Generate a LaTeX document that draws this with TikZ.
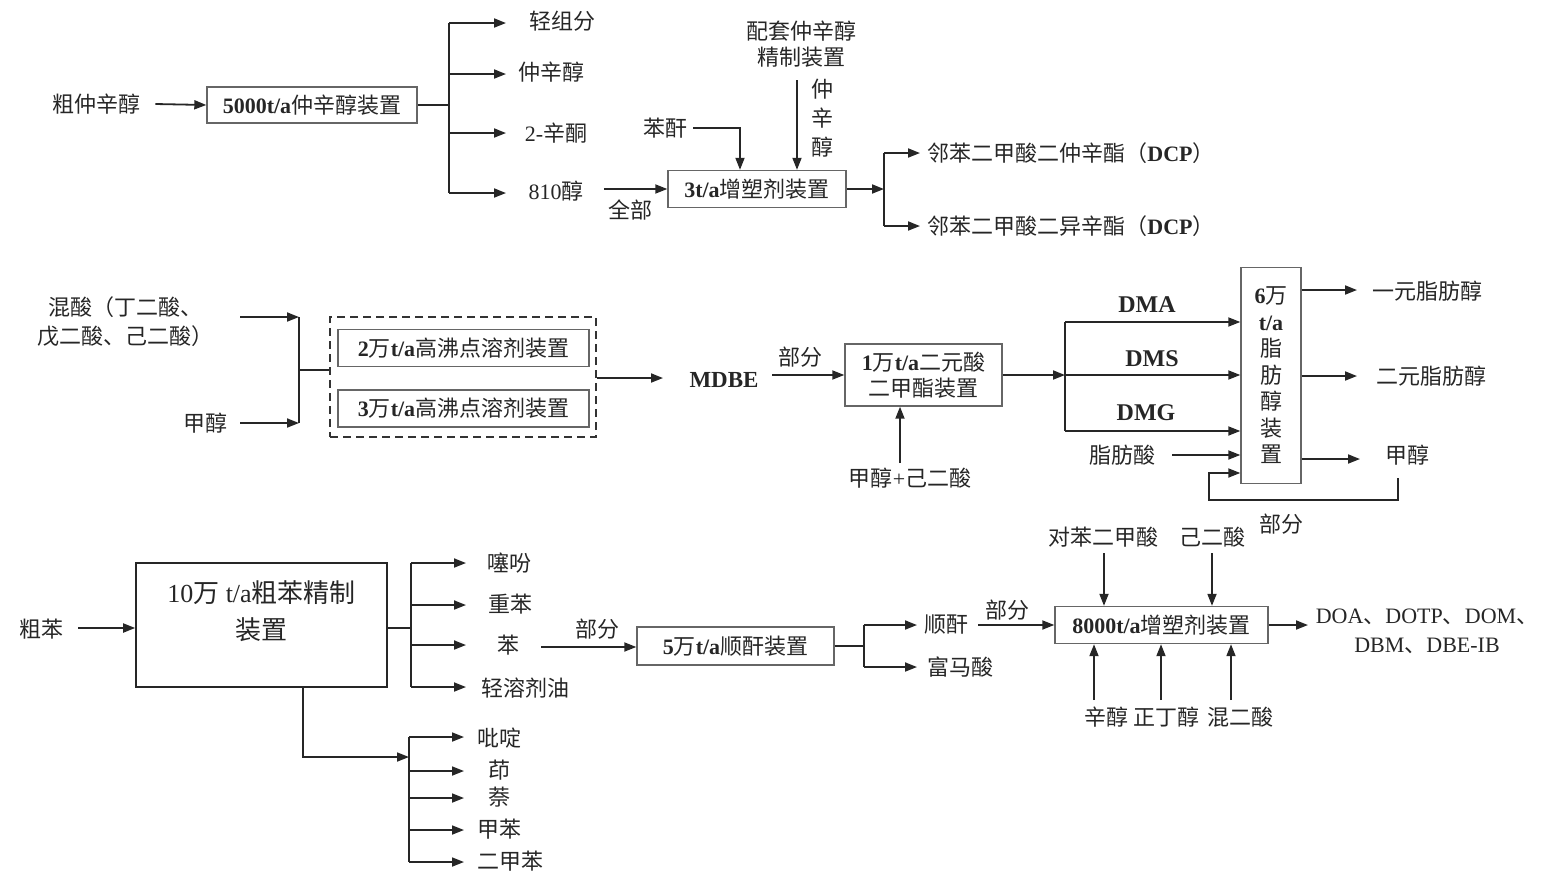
\documentclass[tikz,border=0pt]{standalone}
\usepackage{fontspec}
\setmainfont{Liberation Serif}
\newfontfamily\cjk{Noto Sans CJK SC}
\usetikzlibrary{arrows.meta}
\XeTeXinterchartokenstate=1
\newXeTeXintercharclass\CJKcls
\newcount\cjkcnt
\cjkcnt="4E00
\loop
  \XeTeXcharclass\cjkcnt=\CJKcls
  \advance\cjkcnt by 1
\ifnum\cjkcnt<"A000 \repeat
\XeTeXcharclass"3001=\CJKcls
\XeTeXcharclass"FF08=\CJKcls
\XeTeXcharclass"FF09=\CJKcls
\XeTeXinterchartoks 0 \CJKcls={\cjk}
\XeTeXinterchartoks 4095 \CJKcls={\cjk}
\XeTeXinterchartoks \CJKcls 0={\rmfamily}
\XeTeXinterchartoks \CJKcls 4095={\rmfamily}
\tikzset{
  lbl/.style={inner sep=0pt, text=black!85, font=\fontsize{11}{13}\selectfont},
  box/.style={draw=black!60, line width=0.7pt, inner sep=1pt, text=black!85,
    font=\fontsize{11}{13}\selectfont, align=center},
  ln/.style={line width=0.9pt, draw=black!85},
  arr/.style={ln, -{Triangle[length=6pt,width=4.5pt]}},
}
\begin{document}
\begin{tikzpicture}[x=0.5pt,y=-0.5pt]
\useasboundingbox (0,0) rectangle (1542,874);
% ---------------- top ----------------
\node[lbl] (czx) at (97,104) {粗仲辛醇};
\node[box, minimum width=105pt, minimum height=18pt] (b1) at (312,105) {\textbf{5000t/a}仲辛醇装置};
\draw[arr] ([xshift=7pt]czx.east) -- (b1.west);
\coordinate (j1) at (449,105);
\coordinate (t11) at (506,23);
\coordinate (t12) at (506,74);
\coordinate (t13) at (506,133);
\coordinate (t14) at (506,193);
\draw[ln] (b1.east) -- (j1);
\draw[ln] (j1 |- t11) -- (j1 |- t14);
\foreach \t in {t11,t12,t13,t14} \draw[arr] (j1 |- \t) -- (\t);
\node[lbl] (lq) at (562,21) {轻组分};
\node[lbl] (lzx) at (551,72) {仲辛醇};
\node[lbl] (lxt) at (556,133) {2-辛酮};
\node[lbl] (l810) at (556,191) {810醇};
\node[box, minimum width=89pt, minimum height=18.5pt] (b2) at (757,189) {\textbf{3t/a}增塑剂装置};
\coordinate (s810) at ([xshift=10pt]l810.east);
\draw[arr] (s810 |- b2.west) -- (b2.west);
\node[lbl] (lqb) at (630,210) {全部};
\node[lbl] (lbf) at (665,128) {苯酐};
\draw[arr] ([xshift=3pt]lbf.east) -| ([xshift=-8.5pt]b2.north);
\node[lbl, align=center] (lpt) at (801,44) {配套仲辛醇\\精制装置};
\coordinate (spt) at (797,80);
\draw[arr] (spt) -- (spt |- b2.north);
\node[lbl, align=center, font=\fontsize{11}{14.5}\selectfont] (lzxv) at (822,118) {仲\\辛\\醇};
\coordinate (j2) at (884,189);
\coordinate (t21) at (920,153);
\coordinate (t22) at (920,226);
\draw[arr] (b2.east) -- (j2);
\draw[ln] (j2 |- t21) -- (j2 |- t22);
\draw[arr] (j2 |- t21) -- (t21);
\draw[arr] (j2 |- t22) -- (t22);
\node[lbl, anchor=west] (ldcp1) at (927,153) {邻苯二甲酸二仲辛酯（\textbf{DCP}）};
\node[lbl, anchor=west] (ldcp2) at (927,226) {邻苯二甲酸二异辛酯（\textbf{DCP}）};
% ---------------- middle ----------------
\node[lbl, align=center, font=\fontsize{11}{14.5}\selectfont] (lhs) at (126,322) {混酸（丁二酸、\\戊二酸、己二酸）};
\node[lbl] (ljc1) at (205,423) {甲醇};
\coordinate (h1) at (240,317);
\coordinate (h2) at (240,423);
\coordinate (jm) at (299,370);
\draw[arr] (h1) -- (jm |- h1);
\draw[arr] (h2) -- (jm |- h2);
\draw[ln] (jm |- h1) -- (jm |- h2);
\node[draw=black!80, line width=0.9pt, dash pattern=on 4pt off 2.5pt, minimum width=133pt, minimum height=60pt] (dbox) at (463,377) {};
\node[box, minimum width=125.5pt, minimum height=18.5pt] (ib1) at (463.5,348) {\textbf{2}万\textbf{t/a}高沸点溶剂装置};
\node[box, minimum width=125.5pt, minimum height=18.5pt] (ib2) at (463.5,408.5) {\textbf{3}万\textbf{t/a}高沸点溶剂装置};
\draw[ln] (jm) -- (jm -| dbox.west);
\coordinate (tm) at (663,378);
\draw[arr] (tm -| dbox.east) -- (tm);
\node[lbl, font=\fontsize{11.5}{13}\selectfont\bfseries] (lmd) at (724,380) {MDBE};
\node[box, minimum width=78.5pt, minimum height=31pt] (b3) at (923.5,375) {\textbf{1}万\textbf{t/a}二元酸\\二甲酯装置};
\coordinate (smd) at (772,375);
\draw[arr] (smd) -- (b3.west);
\node[lbl] (lbf1) at (800,357) {部分};
\node[lbl] (ljy) at (910,478) {甲醇+己二酸};
\coordinate (sjy) at (900,463);
\draw[arr] (sjy) -- (sjy |- b3.south);
\node[box, minimum width=30pt, minimum height=108pt, inner sep=0pt, font=\fontsize{11}{13.25}\selectfont] (b4) at (1271,375.5) {\textbf{6}万\\\textbf{t/a}\\脂\\肪\\醇\\装\\置};
\coordinate (cA) at (1065,322);
\coordinate (cS) at (1065,375);
\coordinate (cG) at (1065,431);
\draw[arr] (b3.east) -- (cS);
\draw[ln] (cA) -- (cG);
\draw[arr] (cA) -- (cA -| b4.west);
\draw[arr] (cS) -- (cS -| b4.west);
\draw[arr] (cG) -- (cG -| b4.west);
\node[lbl, font=\fontsize{12}{14}\selectfont\bfseries] (ldma) at (1147,305) {DMA};
\node[lbl, font=\fontsize{12}{14}\selectfont\bfseries] (ldms) at (1152,359) {DMS};
\node[lbl, font=\fontsize{12}{14}\selectfont\bfseries] (ldmg) at (1146,413) {DMG};
\node[lbl] (lzf) at (1122,455) {脂肪酸};
\coordinate (czf) at (1172,455);
\draw[arr] (czf) -- (czf -| b4.west);
\coordinate (o1) at (1357,290);
\coordinate (o2) at (1357,376);
\coordinate (o3) at (1360,459);
\draw[arr] (o1 -| b4.east) -- (o1);
\draw[arr] (o2 -| b4.east) -- (o2);
\draw[arr] (o3 -| b4.east) -- (o3);
\node[lbl] (ly1) at (1427,291) {一元脂肪醇};
\node[lbl] (ly2) at (1431,376) {二元脂肪醇};
\node[lbl] (ljc2) at (1407,455) {甲醇};
\coordinate (fb1) at (1398,478);
\coordinate (fb2) at (1209,500);
\coordinate (fb3) at (1209,473);
\draw[arr] (fb1) |- (fb2) -- (fb3) -- (fb3 -| b4.west);
\node[lbl] (lbf2) at (1281,524) {部分};
% ---------------- bottom ----------------
\node[lbl] (lcb) at (41,629) {粗苯};
\node[draw=black!85, line width=0.8pt, minimum width=125.5pt, minimum height=62pt] (b5) at (261.5,625) {};
\node[inner sep=0pt, align=center, text=black!85, font=\fontsize{13}{18.5}\selectfont] (b5t) at (261.5,611) {10万 t/a粗苯精制\\装置};
\coordinate (scb) at (78,628);
\draw[arr] (scb) -- (scb -| b5.west);
\coordinate (j5) at (411,628);
\draw[ln] (j5 -| b5.east) -- (j5);
\coordinate (q1) at (466,563);
\coordinate (q2) at (466,605);
\coordinate (q3) at (466,645);
\coordinate (q4) at (466,687);
\draw[ln] (q1 -| j5) -- (q4 -| j5);
\foreach \q in {q1,q2,q3,q4} \draw[arr] (\q -| j5) -- (\q);
\node[lbl] (lsf) at (509,563) {噻吩};
\node[lbl] (lzb) at (510,604) {重苯};
\node[lbl] (lbz) at (508,645) {苯};
\node[lbl] (lqr) at (525,688) {轻溶剂油};
\coordinate (j6) at (409,757);
\draw[arr] ([xshift=20.75pt]b5.south) |- (j6);
\coordinate (r1) at (464,737);
\coordinate (r2) at (464,771);
\coordinate (r3) at (464,798);
\coordinate (r4) at (464,830);
\coordinate (r5) at (464,862);
\draw[ln] (r1 -| j6) -- (r5 -| j6);
\foreach \r in {r1,r2,r3,r4,r5} \draw[arr] (\r -| j6) -- (\r);
\node[lbl] (lbd) at (499,738) {吡啶};
\node[lbl] (lyin) at (499,770) {茚};
\node[lbl] (lnai) at (499,797) {萘};
\node[lbl] (ljb) at (499,829) {甲苯};
\node[lbl] (lejb) at (510,861) {二甲苯};
\node[box, minimum width=98.5pt, minimum height=19pt] (b6) at (735.5,646) {\textbf{5}万\textbf{t/a}顺酐装置};
\coordinate (sbz) at (541,647);
\draw[arr] (sbz) -- (sbz -| b6.west);
\node[lbl] (lbf3) at (597,629) {部分};
\coordinate (j7) at (864,646);
\coordinate (u1) at (917,625);
\coordinate (u2) at (917,667);
\draw[ln] (b6.east) -- (j7);
\draw[ln] (u1 -| j7) -- (u2 -| j7);
\draw[arr] (u1 -| j7) -- (u1);
\draw[arr] (u2 -| j7) -- (u2);
\node[lbl] (lsg) at (946,625) {顺酐};
\node[lbl] (lfm) at (960,667) {富马酸};
\node[box, minimum width=106.5pt, minimum height=18.5pt] (b7) at (1161.5,625) {\textbf{8000t/a}增塑剂装置};
\coordinate (ssf) at (978,625);
\draw[arr] (ssf) -- (ssf -| b7.west);
\node[lbl] (lbf4) at (1007,610) {部分};
\node[lbl] (ldb) at (1103,537) {对苯二甲酸};
\node[lbl] (lje) at (1212,537) {己二酸};
\coordinate (sd1) at (1104,553);
\coordinate (sd2) at (1212,553);
\draw[arr] (sd1) -- (sd1 |- b7.north);
\draw[arr] (sd2) -- (sd2 |- b7.north);
\coordinate (su1) at (1094,700);
\coordinate (su2) at (1161,700);
\coordinate (su3) at (1231,700);
\draw[arr] (su1) -- (su1 |- b7.south);
\draw[arr] (su2) -- (su2 |- b7.south);
\draw[arr] (su3) -- (su3 |- b7.south);
\node[lbl] (lxc) at (1106,717) {辛醇};
\node[lbl] (lzd) at (1166,717) {正丁醇};
\node[lbl] (lhe) at (1240,717) {混二酸};
\coordinate (tout) at (1308,625);
\draw[arr] (b7.east) -- (tout);
\node[lbl, align=center, font=\fontsize{11}{14.5}\selectfont] (ldoa) at (1427,631) {DOA、DOTP、DOM、\\DBM、DBE-IB};
\end{tikzpicture}
\end{document}
